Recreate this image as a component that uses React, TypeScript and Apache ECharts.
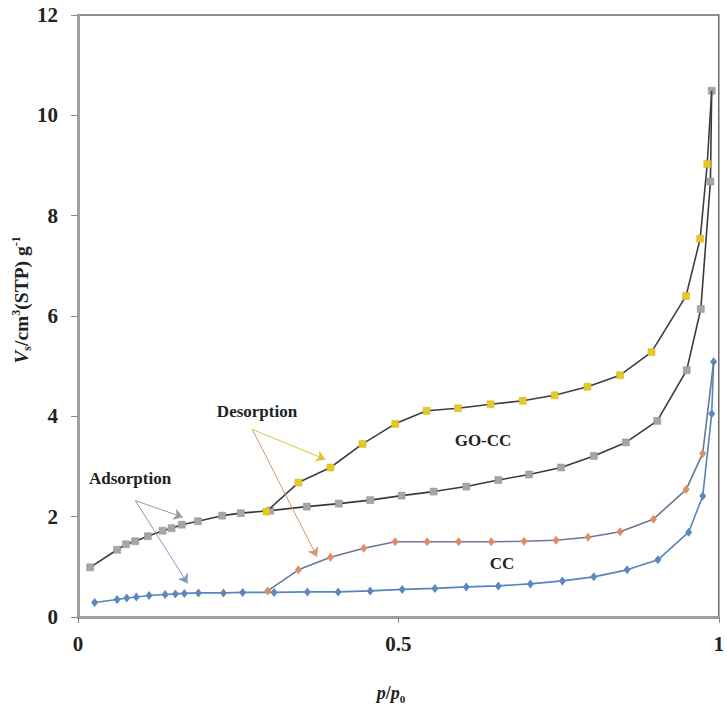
import React, { useEffect, useRef } from "react";
import * as echarts from "echarts";

// GO-CC adsorption (gray squares)
const goccAdsX = [0.019, 0.061, 0.075, 0.089, 0.109, 0.132, 0.146, 0.162, 0.187, 0.225, 0.254, 0.300, 0.357, 0.407, 0.456, 0.505, 0.555, 0.606, 0.656, 0.704, 0.754, 0.805, 0.855, 0.904, 0.950, 0.972, 0.987, 0.989];
const goccAdsY = [0.99, 1.34, 1.45, 1.51, 1.61, 1.72, 1.77, 1.84, 1.91, 2.02, 2.07, 2.12, 2.20, 2.26, 2.33, 2.42, 2.50, 2.60, 2.73, 2.84, 2.98, 3.21, 3.48, 3.91, 4.92, 6.14, 8.68, 10.49];
// GO-CC desorption (yellow squares); first point closes the loop at the top
const goccDesX = [0.989, 0.982, 0.971, 0.949, 0.895, 0.846, 0.795, 0.744, 0.694, 0.644, 0.593, 0.544, 0.495, 0.444, 0.394, 0.344, 0.294];
const goccDesY = [10.49, 9.03, 7.54, 6.40, 5.28, 4.82, 4.59, 4.42, 4.31, 4.24, 4.16, 4.11, 3.85, 3.45, 2.98, 2.68, 2.10];
// CC adsorption (blue diamonds)
const ccAdsX = [0.026, 0.061, 0.076, 0.091, 0.111, 0.136, 0.152, 0.166, 0.188, 0.227, 0.257, 0.306, 0.358, 0.406, 0.456, 0.506, 0.557, 0.606, 0.656, 0.706, 0.756, 0.805, 0.857, 0.905, 0.953, 0.975, 0.989, 0.992];
const ccAdsY = [0.29, 0.35, 0.38, 0.40, 0.43, 0.45, 0.46, 0.47, 0.48, 0.48, 0.49, 0.49, 0.50, 0.50, 0.52, 0.55, 0.57, 0.60, 0.62, 0.66, 0.72, 0.80, 0.94, 1.14, 1.69, 2.41, 4.05, 5.09];
// CC desorption (orange diamonds)
const ccDesX = [0.992, 0.975, 0.949, 0.898, 0.846, 0.796, 0.746, 0.696, 0.645, 0.594, 0.545, 0.495, 0.446, 0.394, 0.344, 0.296];
const ccDesY = [5.09, 3.26, 2.54, 1.95, 1.70, 1.59, 1.53, 1.51, 1.50, 1.50, 1.50, 1.50, 1.37, 1.19, 0.94, 0.52];

const xTicks = [0, 0.5, 1];
const yMax = 12;

const SERIF = "'Liberation Serif', 'Times New Roman', serif";

function pairs(xs: number[], ys: number[], hideFirst = false) {
  return xs.map((x, i) =>
    hideFirst && i === 0 ? { value: [x, ys[i]], symbol: "none" } : { value: [x, ys[i]] }
  );
}

export default function App() {
  const ref = useRef<HTMLDivElement>(null);
  useEffect(() => {
    document.body.style.margin = "0";
    const chart = echarts.init(ref.current!, null, { renderer: "svg" });
    const arrow = (a: number[], b: number[], color: string) => [
      { coord: a, lineStyle: { color, width: 1, type: "solid" } },
      { coord: b },
    ];
    chart.setOption({
      animation: false,
      backgroundColor: "#ffffff",
      grid: {
        left: 78,
        right: 5,
        top: 15,
        bottom: 88,
        show: true,
        borderColor: "#6b6b6b",
        borderWidth: 1.5,
        backgroundColor: "transparent",
      },
      xAxis: {
        type: "value",
        min: xTicks[0],
        max: xTicks[xTicks.length - 1],
        interval: 0.5,
        splitLine: { show: false },
        axisLine: { show: true, lineStyle: { color: "#a0a0a0", width: 3 } },
        axisTick: { show: true, length: 6, lineStyle: { color: "#8a8a8a", width: 1 } },
        axisLabel: {
          margin: 16,
          color: "#222",
          fontFamily: SERIF,
          fontWeight: "bold",
          fontSize: 21,
        },
      },
      yAxis: {
        type: "value",
        min: 0,
        max: yMax,
        interval: 2,
        splitLine: { show: false },
        axisLine: { show: true, lineStyle: { color: "#a0a0a0", width: 3 } },
        axisTick: { show: true, length: 7, lineStyle: { color: "#8a8a8a", width: 1 } },
        axisLabel: {
          margin: 20,
          color: "#222",
          fontFamily: SERIF,
          fontWeight: "bold",
          fontSize: 21,
        },
      },
      graphic: [
        {
          type: "text",
          x: 21,
          y: 300,
          rotation: Math.PI / 2,
          style: {
            text: "{i|V}{sub|s}{n|/cm}{sup|3}{n|(STP) g}{sup|-1}",
            textAlign: "center",
            textVerticalAlign: "middle",
            fill: "#222",
            rich: {
              i: { fontFamily: SERIF, fontWeight: "bold", fontStyle: "italic", fontSize: 19.5, lineHeight: 23, verticalAlign: "middle" },
              n: { fontFamily: SERIF, fontWeight: "bold", fontSize: 19.5, lineHeight: 23, verticalAlign: "middle" },
              sup: { fontFamily: SERIF, fontWeight: "bold", fontSize: 12, lineHeight: 23, verticalAlign: "top" },
              sub: { fontFamily: SERIF, fontWeight: "bold", fontSize: 12, lineHeight: 23, verticalAlign: "bottom" },
            },
          },
        },
        {
          type: "text",
          x: 391,
          y: 693,
          style: {
            text: "{i|p}{n|/}{i|p}{sub|0}",
            textAlign: "center",
            textVerticalAlign: "middle",
            fill: "#222",
            rich: {
              i: { fontFamily: SERIF, fontWeight: "bold", fontStyle: "italic", fontSize: 18, lineHeight: 22, verticalAlign: "middle" },
              n: { fontFamily: SERIF, fontWeight: "bold", fontSize: 18, lineHeight: 22, verticalAlign: "middle" },
              sub: { fontFamily: SERIF, fontWeight: "bold", fontSize: 11, lineHeight: 22, verticalAlign: "bottom" },
            },
          },
        },
        {
          type: "text",
          x: 257,
          y: 411,
          style: { text: "Desorption", textAlign: "center", textVerticalAlign: "middle", fill: "#222", font: `bold 17px ${SERIF}` },
        },
        {
          type: "text",
          x: 130,
          y: 478,
          style: { text: "Adsorption", textAlign: "center", textVerticalAlign: "middle", fill: "#222", font: `bold 17px ${SERIF}` },
        },
        {
          type: "text",
          x: 483,
          y: 440,
          style: { text: "GO-CC", textAlign: "center", textVerticalAlign: "middle", fill: "#222", font: `bold 17px ${SERIF}` },
        },
        {
          type: "text",
          x: 502,
          y: 563,
          style: { text: "CC", textAlign: "center", textVerticalAlign: "middle", fill: "#222", font: `bold 17px ${SERIF}` },
        },
      ],
      series: [
        {
          name: "GO-CC adsorption",
          type: "line",
          data: pairs(goccAdsX, goccAdsY),
          symbol: "rect",
          symbolSize: 7,
          lineStyle: { color: "#3a3a3a", width: 1.6 },
          itemStyle: { color: "#a6a6a6", borderColor: "#8f8f8f", borderWidth: 0.5 },
          z: 2,
          markLine: {
            silent: true,
            symbol: ["none", "arrow"],
            symbolSize: 9,
            label: { show: false },
            data: [
              arrow([0.0896, 2.32], [0.1635, 1.99], "#9a9a9a"),
              arrow([0.0896, 2.32], [0.171, 0.67], "#7f9cc0"),
              arrow([0.272, 3.74], [0.386, 3.14], "#e2c52a"),
              arrow([0.272, 3.74], [0.373, 1.2], "#d9956a"),
            ],
          },
        },
        {
          name: "GO-CC desorption",
          type: "line",
          data: pairs(goccDesX, goccDesY, true),
          symbol: "rect",
          symbolSize: 7,
          lineStyle: { color: "#3f3a4a", width: 1.6 },
          itemStyle: { color: "#e6c928", borderColor: "#cfb21e", borderWidth: 0.5 },
          z: 3,
        },
        {
          name: "CC adsorption",
          type: "line",
          data: pairs(ccAdsX, ccAdsY),
          symbol: "diamond",
          symbolSize: [7, 9],
          lineStyle: { color: "#5585bd", width: 1.6 },
          itemStyle: { color: "#5b88bd" },
          z: 2,
        },
        {
          name: "CC desorption",
          type: "line",
          data: pairs(ccDesX, ccDesY, true),
          symbol: "diamond",
          symbolSize: [7, 9],
          lineStyle: { color: "#667a95", width: 1.6 },
          itemStyle: { color: "#e08e60" },
          z: 3,
        },
      ],
    });
    return () => chart.dispose();
  }, []);
  return <div ref={ref} style={{ width: 727, height: 705 }} />;
}
